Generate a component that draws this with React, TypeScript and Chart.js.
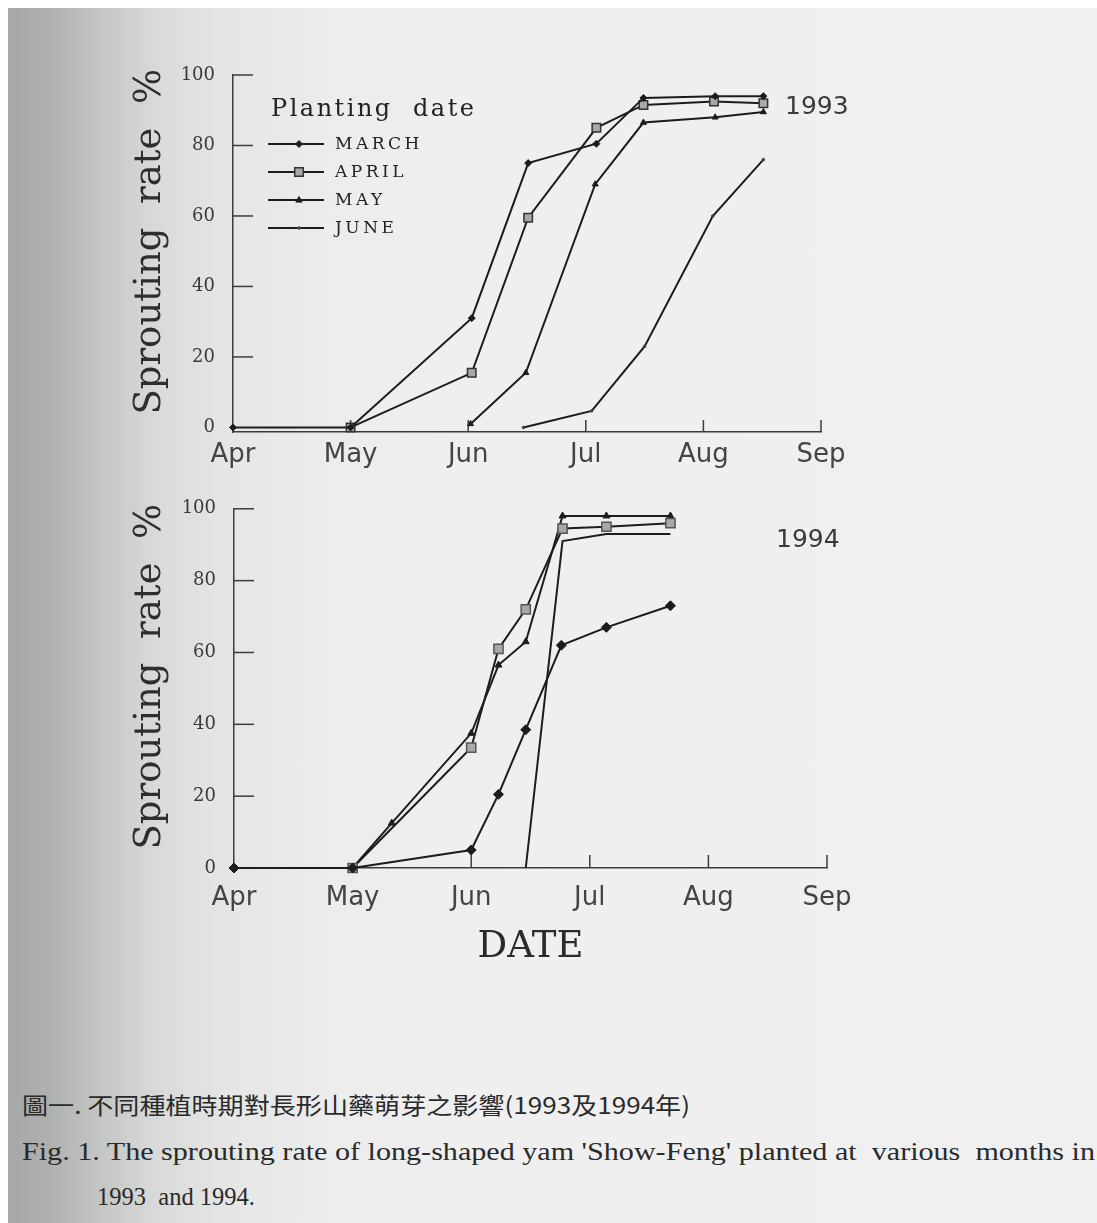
import React, { useEffect, useLayoutEffect, useRef } from "react";
import { Chart, registerables } from "chart.js";

Chart.register(...registerables);

// ---------- data (x = months after 1 April) ----------
const MONTH_LABELS = ["Apr", "May", "Jun", "Jul", "Aug", "Sep"];
const MONTH_TICKS = [0, 1, 2, 3, 4, 5];
const Y_TICKS = [0, 20, 40, 60, 80, 100];
const SERIES_NAMES = ["MARCH", "APRIL", "MAY", "JUNE"];

// 1993
const march93X = [0, 1, 2.03, 2.51, 3.09, 3.49, 4.1, 4.51];
const march93Y = [0, 0, 31, 75, 80.5, 93.5, 94, 94];
const april93X = [1, 2.03, 2.51, 3.09, 3.49, 4.09, 4.51];
const april93Y = [0, 15.5, 59.5, 85, 91.5, 92.5, 92];
const may93X = [2.02, 2.49, 3.08, 3.49, 4.1, 4.51];
const may93Y = [1, 15.5, 69, 86.5, 88, 89.5];
const june93X = [2.47, 3.05, 3.5, 4.08, 4.51];
const june93Y = [0, 4.7, 23, 60, 76];

// 1994
const march94X = [0, 1, 2, 2.23, 2.46, 2.76, 3.14, 3.68];
const march94Y = [0, 0, 5, 20.5, 38.5, 62, 67, 73];
const april94X = [1, 2, 2.23, 2.46, 2.77, 3.14, 3.68];
const april94Y = [0, 33.5, 61, 72, 94.5, 95, 96];
const may94X = [1, 1.33, 2, 2.23, 2.46, 2.77, 3.14, 3.68];
const may94Y = [0, 12.5, 37.5, 56.5, 63, 98, 98, 98];
const june94X = [2.46, 2.77, 3.14, 3.68];
const june94Y = [0, 91, 93, 93];

const Y_TITLE = "\u00a0\u00a0Sprouting  rate  %";
const X_TITLE = "DATE";
const LEGEND_TITLE = "Planting  date";
const YEAR_1993 = "1993";
const YEAR_1994 = "1994";

const CAPTION_ZH = "圖一. 不同種植時期對長形山藥萌芽之影響(1993及1994年)";
const CAPTION_EN1 = "Fig. 1. The sprouting rate of long-shaped yam 'Show-Feng' planted at  various  months in";
const CAPTION_EN2 = "1993  and 1994.";

// ---------- styles ----------
const INK = "#1c1c1c";
const AXIS = "#3c3c3c";

type Sty = { pointStyle: string; radius: number; bg: string; border: string; bw: number };
const STYLE_93: Sty[] = [
  { pointStyle: "rectRot", radius: 3.5, bg: INK, border: INK, bw: 1 },
  { pointStyle: "rect", radius: 6, bg: "#a8a8a8", border: "#333", bw: 1.5 },
  { pointStyle: "triangle", radius: 3.5, bg: INK, border: INK, bw: 1 },
  { pointStyle: "circle", radius: 1.3, bg: "#444", border: "#444", bw: 1 },
];
const STYLE_94: Sty[] = [
  { pointStyle: "rectRot", radius: 5, bg: INK, border: INK, bw: 1 },
  { pointStyle: "rect", radius: 6.5, bg: "#a8a8a8", border: "#555", bw: 1.5 },
  { pointStyle: "triangle", radius: 4, bg: INK, border: INK, bw: 1 },
  { pointStyle: "circle", radius: 0, bg: INK, border: INK, bw: 1 },
];

function pts(xs: number[], ys: number[]) {
  return xs.map((x, i) => ({ x, y: ys[i] }));
}

function makeDatasets(series: { x: number[]; y: number[] }[], styles: Sty[]) {
  return series.map((s, i) => ({
    label: SERIES_NAMES[i],
    data: pts(s.x, s.y),
    borderColor: INK,
    borderWidth: 2,
    pointStyle: styles[i].pointStyle,
    pointRadius: styles[i].radius,
    pointBackgroundColor: styles[i].bg,
    pointBorderColor: styles[i].border,
    pointBorderWidth: styles[i].bw,
    tension: 0,
    fill: false,
    clip: false as any,
  }));
}

// ---------- plugins ----------
const innerTicks = {
  id: "innerTicks",
  beforeDatasetsDraw(chart: any, _a: any, opts: any) {
    const { ctx, scales, chartArea } = chart;
    ctx.save();
    ctx.strokeStyle = opts.color || AXIS;
    ctx.lineWidth = 1.5;
    (opts.yValues || []).forEach((v: number) => {
      const py = scales.y.getPixelForValue(v);
      ctx.beginPath();
      ctx.moveTo(chartArea.left, py);
      ctx.lineTo(chartArea.left + opts.yLen, py);
      ctx.stroke();
    });
    (opts.xValues || []).forEach((v: number) => {
      const px = scales.x.getPixelForValue(v);
      ctx.beginPath();
      ctx.moveTo(px, chartArea.bottom);
      ctx.lineTo(px, chartArea.bottom - opts.xLen);
      ctx.stroke();
    });
    ctx.restore();
  },
};

function drawMarker(ctx: CanvasRenderingContext2D, style: Sty, x: number, y: number) {
  const r = style.radius;
  if (r <= 0) return;
  ctx.save();
  ctx.fillStyle = style.bg;
  ctx.strokeStyle = style.border;
  ctx.lineWidth = style.bw;
  ctx.beginPath();
  if (style.pointStyle === "rect") {
    const s = r * Math.SQRT1_2 * 2;
    ctx.rect(x - s / 2, y - s / 2, s, s);
  } else if (style.pointStyle === "rectRot") {
    ctx.moveTo(x, y - r);
    ctx.lineTo(x + r, y);
    ctx.lineTo(x, y + r);
    ctx.lineTo(x - r, y);
    ctx.closePath();
  } else if (style.pointStyle === "triangle") {
    ctx.moveTo(x, y - r);
    ctx.lineTo(x + r * 0.9, y + r * 0.6);
    ctx.lineTo(x - r * 0.9, y + r * 0.6);
    ctx.closePath();
  } else {
    ctx.arc(x, y, r, 0, Math.PI * 2);
  }
  ctx.fill();
  ctx.stroke();
  ctx.restore();
}

const boxLegend = {
  id: "boxLegend",
  afterDraw(chart: any, _a: any, opts: any) {
    if (!opts || !opts.show) return;
    const ctx: CanvasRenderingContext2D = chart.ctx;
    ctx.save();
    ctx.fillStyle = "#222";
    ctx.textBaseline = "middle";
    ctx.textAlign = "left";
    (ctx as any).letterSpacing = "2.5px";
    ctx.font = "24px 'DejaVu Serif'";
    ctx.fillText(LEGEND_TITLE, opts.x, opts.titleY);
    (ctx as any).letterSpacing = "3.5px";
    ctx.font = "17px 'DejaVu Serif'";
    SERIES_NAMES.forEach((name, i) => {
      const y = opts.rowY + i * opts.rowGap;
      ctx.strokeStyle = INK;
      ctx.lineWidth = 2;
      ctx.beginPath();
      ctx.moveTo(opts.x - 3, y);
      ctx.lineTo(opts.x + 53, y);
      ctx.stroke();
      drawMarker(ctx, opts.styles[i], opts.x + 28, y);
      ctx.fillStyle = "#222";
      ctx.fillText(name, opts.x + 64, y + 1);
    });
    ctx.restore();
  },
};

const yearLabel = {
  id: "yearLabel",
  afterDraw(chart: any, _a: any, opts: any) {
    if (!opts || !opts.text) return;
    const ctx: CanvasRenderingContext2D = chart.ctx;
    ctx.save();
    ctx.fillStyle = "#3a3a3a";
    ctx.font = "25px 'DejaVu Sans'";
    ctx.textAlign = "left";
    ctx.textBaseline = "middle";
    ctx.fillText(opts.text, opts.x, opts.y);
    ctx.restore();
  },
};

// ---------- chart config ----------
type Frame = {
  canvasTop: number;
  width: number;
  height: number;
  left: number;
  right: number;
  top: number;
  bottom: number;
  yMin: number;
  xAxisHeight: number;
  xTickPad: number;
  xTitle?: string;
};

function makeOptions(f: Frame, extraPlugins: any) {
  const padLeft = 126;
  return {
    animation: false,
    responsive: false,
    maintainAspectRatio: false,
    events: [],
    layout: {
      padding: {
        left: padLeft,
        right: f.width - f.right,
        top: f.top - f.canvasTop,
        bottom: f.height - (f.bottom - f.canvasTop) - f.xAxisHeight,
      },
    },
    plugins: {
      legend: { display: false },
      tooltip: { enabled: false },
      ...extraPlugins,
    },
    scales: {
      x: {
        type: "linear",
        min: 0,
        max: 5,
        afterBuildTicks: (s: any) => {
          s.ticks = MONTH_TICKS.map((v) => ({ value: v }));
        },
        afterFit: (s: any) => {
          s.height = f.xAxisHeight;
        },
        grid: { display: false, drawTicks: false },
        border: { display: true, color: AXIS, width: 1.5 },
        ticks: {
          autoSkip: false,
          maxRotation: 0,
          padding: f.xTickPad,
          color: "#444",
          font: { family: "'DejaVu Sans'", size: 26 },
          callback: (v: any) => MONTH_LABELS[Math.round(v)],
        },
        title: {
          display: !!f.xTitle,
          text: f.xTitle || "",
          color: "#2a2a2a",
          font: { family: "'DejaVu Serif'", size: 37 },
          padding: { top: 0, bottom: 0 },
        },
      },
      y: {
        type: "linear",
        min: f.yMin,
        max: 100,
        afterBuildTicks: (s: any) => {
          s.ticks = Y_TICKS.map((v) => ({ value: v }));
        },
        afterFit: (s: any) => {
          s.width = f.left - padLeft;
        },
        grid: { display: false, drawTicks: false },
        border: { display: true, color: AXIS, width: 1.5 },
        ticks: {
          padding: 18,
          color: "#3a3a3a",
          font: { family: "'DejaVu Serif'", size: 18 },
          callback: (v: any) => String(v),
        },
        title: {
          display: true,
          text: Y_TITLE,
          color: "#2e2e2e",
          font: { family: "'DejaVu Serif'", size: 37 },
          padding: { top: 2, bottom: 0 },
        },
      },
    },
  };
}

const FRAME_93: Frame = {
  canvasTop: 40, width: 900, height: 450,
  left: 233, right: 821, top: 75, bottom: 432, yMin: -1.3, xAxisHeight: 50, xTickPad: 8,
};
const FRAME_94: Frame = {
  canvasTop: 480, width: 900, height: 500,
  left: 234, right: 827, top: 501, bottom: 868, yMin: 0, xAxisHeight: 102, xTickPad: 15, xTitle: X_TITLE,
};

function ChartCanvas({ frame, config }: { frame: Frame; config: () => any }) {
  const ref = useRef<HTMLCanvasElement>(null);
  useEffect(() => {
    if (!ref.current) return;
    const chart = new Chart(ref.current, config());
    return () => chart.destroy();
  }, []);
  return (
    <canvas
      ref={ref}
      width={frame.width}
      height={frame.height}
      style={{ position: "absolute", left: 0, top: frame.canvasTop, width: frame.width, height: frame.height }}
    />
  );
}

function FitText({ text, left, top, width, family, size, color }: any) {
  const ref = useRef<HTMLSpanElement>(null);
  useLayoutEffect(() => {
    const el = ref.current;
    if (!el) return;
    el.style.transform = "none";
    const w = el.getBoundingClientRect().width;
    if (w > 0) el.style.transform = `scaleX(${width / w})`;
  }, []);
  return (
    <span
      ref={ref}
      style={{
        position: "absolute",
        left,
        top,
        whiteSpace: "pre",
        fontFamily: family,
        fontSize: size,
        lineHeight: 1,
        color,
        transformOrigin: "0 50%",
      }}
    >
      {text}
    </span>
  );
}

export default function App() {
  const config93 = () => ({
    type: "line",
    data: {
      datasets: makeDatasets(
        [
          { x: march93X, y: march93Y },
          { x: april93X, y: april93Y },
          { x: may93X, y: may93Y },
          { x: june93X, y: june93Y },
        ],
        STYLE_93
      ),
    },
    options: makeOptions(FRAME_93, {
      innerTicks: { yValues: [20, 40, 60, 80, 100], yLen: 20, xValues: [1, 2, 3, 4, 5], xLen: 12 },
      boxLegend: { show: true, x: 271, titleY: 110 - 40, rowY: 144 - 40, rowGap: 28, styles: STYLE_93 },
      yearLabel: { text: YEAR_1993, x: 785, y: 107 - 40 },
    }),
    plugins: [innerTicks, boxLegend, yearLabel],
  });

  const config94 = () => ({
    type: "line",
    data: {
      datasets: makeDatasets(
        [
          { x: march94X, y: march94Y },
          { x: april94X, y: april94Y },
          { x: may94X, y: may94Y },
          { x: june94X, y: june94Y },
        ],
        STYLE_94
      ),
    },
    options: makeOptions(FRAME_94, {
      innerTicks: { yValues: [20, 40, 60, 80, 100], yLen: 20, xValues: [2, 3, 4, 5], xLen: 13 },
      yearLabel: { text: YEAR_1994, x: 776, y: 540 - 480 },
    }),
    plugins: [innerTicks, yearLabel],
  });

  return (
    <div style={{ position: "fixed", left: 0, top: 0, width: 1097, height: 1223, background: "#fff", overflow: "hidden" }}>
      <div
        style={{
          position: "absolute",
          left: 8,
          top: 8,
          right: 0,
          bottom: 0,
          background:
            "linear-gradient(to right, #a5a8a6 0px, #adb0ae 40px, #c5c7c6 95px, #d9dbda 150px, #e5e6e5 220px, #ececec 320px, #efefef 450px, #f0f0f0 100%)",
        }}
      />
      <ChartCanvas frame={FRAME_93} config={config93} />
      <ChartCanvas frame={FRAME_94} config={config94} />
      <FitText text={CAPTION_ZH} left={22} top={1093} width={668} family="'Noto Sans CJK TC'" size={23} color="#2a2a2a" />
      <FitText text={CAPTION_EN1} left={22} top={1139} width={1073} family="'Liberation Serif'" size={25} color="#2a2a2a" />
      <FitText text={CAPTION_EN2} left={97} top={1184} width={158} family="'Liberation Serif'" size={25} color="#2a2a2a" />
    </div>
  );
}
